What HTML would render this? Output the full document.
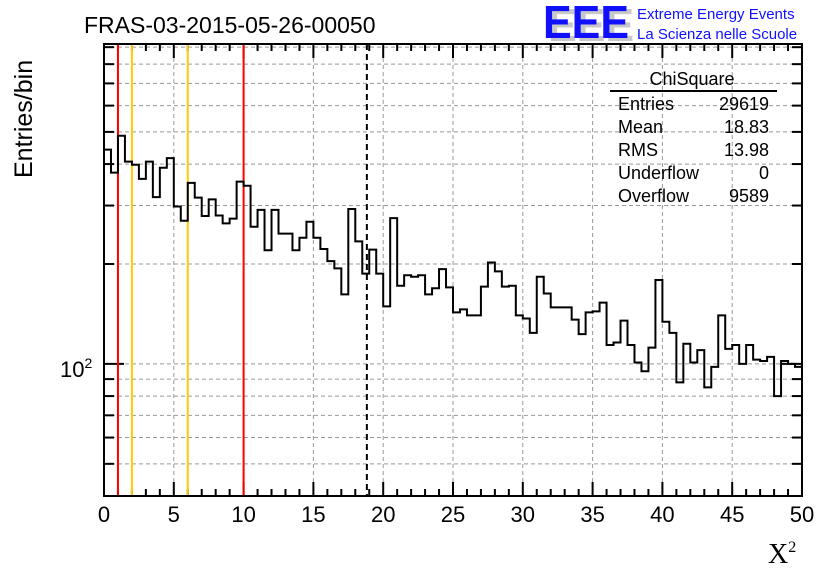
<!DOCTYPE html>
<html><head><meta charset="utf-8"><style>
body{margin:0;background:#fff}
svg{display:block;font-family:"Liberation Sans",sans-serif}
</style></head><body>
<svg width="836" height="572" viewBox="0 0 836 572">
<rect width="836" height="572" fill="#fff"/>
<text x="84" y="33" font-size="23">FRAS-03-2015-05-26-00050</text>
<g>
<text x="548" y="41" font-size="46" font-weight="bold" fill="#c8c8c8" textLength="86" lengthAdjust="spacingAndGlyphs">EEE</text>
<text x="543" y="38" font-size="46" font-weight="bold" fill="#1010ff" textLength="86" lengthAdjust="spacingAndGlyphs">EEE</text>
<text x="637" y="19" font-size="15" fill="#1010ff">Extreme Energy Events</text>
<text x="637" y="39" font-size="15" fill="#1010ff">La Scienza nelle Scuole</text>
</g>
<g id="grid"></g>
<g id="ticks"></g>
<g id="lines"></g>
<path id="hist" fill="none" stroke="#000" stroke-width="2"/>
<rect x="104" y="44" width="698" height="452" fill="none" stroke="#000" stroke-width="2"/>
<g id="xlabels" font-size="22" text-anchor="middle"></g>
<text x="60" y="377" font-size="22">10<tspan dy="-9" font-size="14">2</tspan></text>
<text transform="translate(32,178) rotate(-90)" font-size="25">Entries/bin</text>
<text x="768" y="563" font-family="Liberation Serif,serif" font-size="28">X<tspan dy="-11" font-size="16">2</tspan></text>
<g font-size="18">
<text x="692" y="85" text-anchor="middle">ChiSquare</text>
<line x1="610" y1="91" x2="777" y2="91" stroke="#000" stroke-width="2"/>
<text x="618" y="110">Entries</text><text x="769" y="110" text-anchor="end">29619</text>
<text x="618" y="133">Mean</text><text x="769" y="133" text-anchor="end">18.83</text>
<text x="618" y="156">RMS</text><text x="769" y="156" text-anchor="end">13.98</text>
<text x="618" y="179">Underflow</text><text x="769" y="179" text-anchor="end">0</text>
<text x="618" y="202">Overflow</text><text x="769" y="202" text-anchor="end">9589</text>
</g>
</svg>
<script>
const counts=[442,377,487,407,398,361,407,318,390,417,298,270,351,317,279,313,280,265,274,354,
344,259,291,220,291,247,247,220,240,268,240,222,204,194,162,293,234,187,221,187,
149,275,172,185,183,185,162,169,193,170,143,146,140,140,171,202,190,171,172,140,
137,124,183,163,148,148,148,136,123,143,144,153,114,116,135,114,101,95,112,179,
134,124,88,115,101,110,85,98,140,111,114,100,114,103,102,105,80,102,100,98];
const xTicks=[0,5,10,15,20,25,30,35,40,45,50];
const vLines=[1,2,6,10];
const vColors=["#ff0000","#ffcc00","#ffcc00","#ff0000"];
const meanValue=18.83;
const yGrid=[50,60,70,80,90,100,200,300,400,500,600,700,800,900];
const X0=104,X1=802,Y0=496,Ytop=44,XMAX=50,YMIN=40.0,YMAX=920;
const sx=v=>X0+(X1-X0)*v/XMAX;
const sy=v=>Y0-(Y0-Ytop)*Math.log(v/YMIN)/Math.log(YMAX/YMIN);
const NS="http://www.w3.org/2000/svg";
function mk(tag,attrs,parent){const e=document.createElementNS(NS,tag);for(const k in attrs)e.setAttribute(k,attrs[k]);parent.appendChild(e);return e;}
const grid=document.getElementById('grid'),ticks=document.getElementById('ticks');
yGrid.forEach(v=>{const y=sy(v);
 const g=mk('line',{x1:X0,x2:X1,y1:y,y2:y,stroke:'#999','stroke-dasharray':'4,3','stroke-width':1},grid);
 
 
 const L=v===100?20:10;
 mk('line',{x1:X0,x2:X0+L,y1:y,y2:y,stroke:'#000','stroke-width':2},ticks);
 mk('line',{x1:X1-L,x2:X1,y1:y,y2:y,stroke:'#000','stroke-width':2},ticks);
});
xTicks.forEach(v=>{const x=sx(v);
 if(v>0&&v<50){const g=mk('line',{x1:x,x2:x,y1:Ytop,y2:Y0,stroke:'#999','stroke-dasharray':'4,3','stroke-width':1},grid);
 
 }
 const t=mk('text',{x:x,y:522},document.getElementById('xlabels'));t.textContent=v;
 
 
});
for(let i=0;i<=50;i++){const x=sx(i);const L=i%5===0?14:7;
 mk('line',{x1:x,x2:x,y1:Y0,y2:Y0-L,stroke:'#000','stroke-width':2},ticks);
 mk('line',{x1:x,x2:x,y1:Ytop,y2:Ytop+L,stroke:'#000','stroke-width':2},ticks);}
const lines=document.getElementById('lines');
vLines.forEach((v,i)=>{const l=mk('line',{x1:sx(v),x2:sx(v),y1:Ytop,y2:Y0,stroke:vColors[i],'stroke-width':2},lines);
 
 });
const ml=mk('line',{x1:sx(meanValue),x2:sx(meanValue),y1:Ytop,y2:Y0,stroke:'#000','stroke-width':2,'stroke-dasharray':'6,4'},lines);


const w=XMAX/counts.length;let d='';
counts.forEach((c,i)=>{const y=sy(c);const xa=sx(i*w),xb=sx((i+1)*w);
 d+=(i===0?'M':'L')+xa+','+y+'L'+xb+','+y;});
document.getElementById('hist').setAttribute('d',d);
</script>
</body></html>
